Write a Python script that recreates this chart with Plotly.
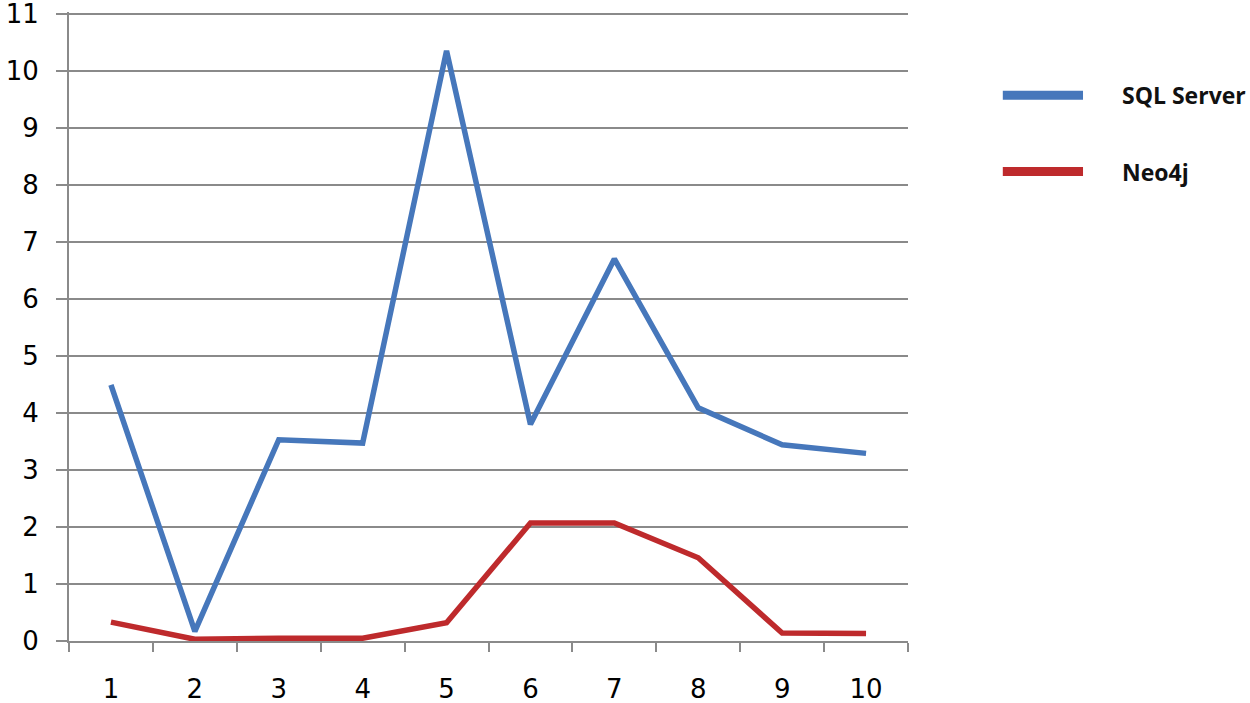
import plotly.graph_objects as go

categories = ["1", "2", "3", "4", "5", "6", "7", "8", "9", "10"]
sql_server = [4.49, 0.17, 3.53, 3.47, 10.35, 3.80, 6.70, 4.09, 3.44, 3.29]
neo4j = [0.33, 0.03, 0.05, 0.05, 0.32, 2.07, 2.07, 1.46, 0.14, 0.13]
y_ticks = list(range(0, 12))

BLUE = "#4677bb"
RED = "#be2a2c"
GRID = "#8a8a8a"
TICKFONT = dict(family="DejaVu Sans, Verdana, sans-serif", size=26, color="#000000")

fig = go.Figure()
fig.add_trace(go.Scatter(x=categories, y=sql_server, mode="lines", name="SQL Server",
                         line=dict(color=BLUE, width=5.5)))
fig.add_trace(go.Scatter(x=categories, y=neo4j, mode="lines", name="Neo4j",
                         line=dict(color=RED, width=5.5)))

fig.update_layout(
    width=1250, height=703,
    margin=dict(l=69, r=342, t=12, b=62),
    plot_bgcolor="white", paper_bgcolor="white",
    showlegend=False,
    font=TICKFONT,
)
fig.update_xaxes(
    type="category", tickson="boundaries", showgrid=False,
    ticks="outside", ticklen=9, tickwidth=2, tickcolor=GRID,
    showline=True, linecolor=GRID, linewidth=2,
    range=[-0.5, 9.5], ticklabelstandoff=24, automargin=False,
    tickfont=TICKFONT,
)
fig.update_yaxes(
    range=[0, 11.03], tickvals=y_ticks, ticktext=[str(v) for v in y_ticks],
    showgrid=True, gridcolor=GRID, gridwidth=2,
    ticks="outside", ticklen=11, tickwidth=2, tickcolor=GRID,
    showline=True, linecolor=GRID, linewidth=2,
    zeroline=False, ticklabelstandoff=12, automargin=False,
    ticklabeloverflow="allow",
    tickfont=TICKFONT,
)

legend_items = [("SQL Server", BLUE, 0.8676), ("Neo4j", RED, 0.7464)]
for name, color, yp in legend_items:
    fig.add_shape(type="line", xref="paper", yref="paper",
                  x0=1.113, x1=1.2086, y0=yp, y1=yp,
                  line=dict(color=color, width=9))
    fig.add_annotation(xref="paper", yref="paper", x=1.2527, y=yp,
                       text=name, showarrow=False, xanchor="left", yanchor="middle",
                       font=dict(family="Open Sans", size=23, color="#111111", weight="bold"))

fig.write_html("out.html", config={"displayModeBar": False},
               post_script="document.body.style.margin='0';")
